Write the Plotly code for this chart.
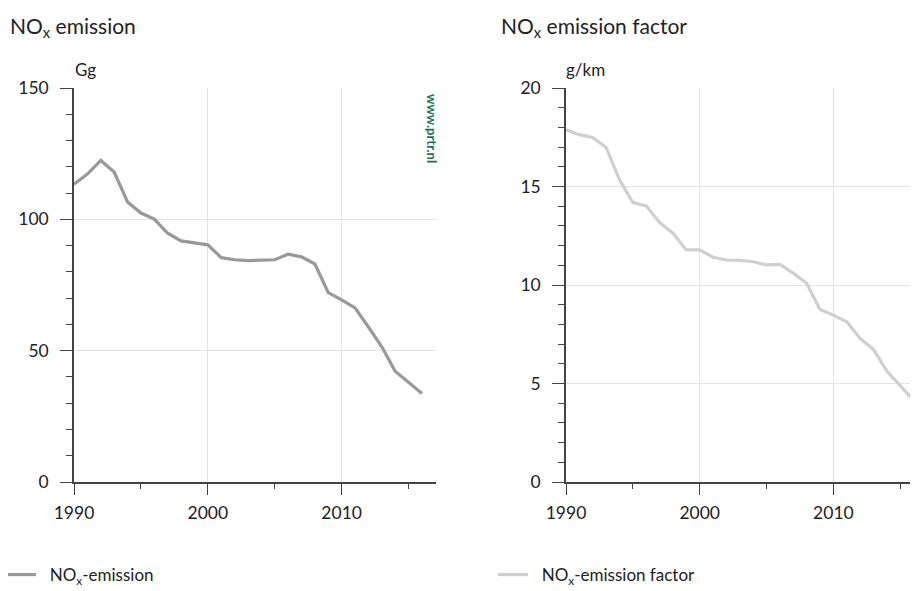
import plotly.graph_objects as go

years = list(range(1990, 2017))
nox_emission = [113.4, 117.2, 122.4, 118.0, 106.6, 102.4, 100.1, 94.7, 91.8, 91.2,
                90.3, 85.4, 84.6, 84.3, 84.4, 84.6, 86.7, 85.7, 83.0, 72.1,
                69.3, 66.3, 59.0, 51.5, 42.2, 38.0, 33.7]
nox_factor = [17.88, 17.63, 17.49, 16.98, 15.34, 14.18, 14.02, 13.17, 12.63, 11.78,
              11.78, 11.41, 11.27, 11.25, 11.18, 11.02, 11.05, 10.60, 10.09, 8.76,
              8.47, 8.13, 7.29, 6.73, 5.63, 4.90, 4.15]

x_ticks = [1990, 2000, 2010]
y1_ticks = [0, 50, 100, 150]
y2_ticks = [0, 5, 10, 15, 20]

FONT = "Lato"
OFF = 8  # page body margin
W, H = 918 - OFF, 591 - OFF

def px_x(p):
    # p given in screen pixels
    return (p - OFF) / W

def px_y(p):
    return (H - (p - OFF)) / H

fig = go.Figure()
fig.add_trace(go.Scatter(x=years, y=nox_emission, mode="lines",
                         line=dict(color="#999999", width=3.2),
                         name="&nbsp;&nbsp;NO<sub>x</sub>-emission", xaxis="x", yaxis="y",
                         legend="legend"))
fig.add_trace(go.Scatter(x=years, y=nox_factor, mode="lines",
                         line=dict(color="#cfcfcf", width=3.2),
                         name="&nbsp;&nbsp;NO<sub>x</sub>-emission factor", xaxis="x2", yaxis="y2",
                         legend="legend2"))

axis_line = "#444444"
grid = "#e3e3e3"

common_x = dict(tickvals=x_ticks, showgrid=True, gridcolor=grid, gridwidth=1,
                showline=True, linecolor=axis_line, linewidth=2,
                ticks="outside", ticklen=11, tickwidth=1.2, tickcolor=axis_line,
                minor=dict(dtick=5, tick0=1990, ticks="outside", ticklen=5,
                           tickcolor=axis_line, tickwidth=1.2, showgrid=False),
                tickfont=dict(family=FONT, size=17.5, color="#222222"),
                zeroline=False, fixedrange=True, ticklabelstandoff=3,
                automargin=False)
common_y = dict(showgrid=True, gridcolor=grid, gridwidth=1,
                showline=True, linecolor=axis_line, linewidth=1.5,
                ticks="outside", ticklen=12, tickwidth=1.2, tickcolor=axis_line,
                tickfont=dict(family=FONT, size=17.5, color="#222222"),
                zeroline=False, fixedrange=True, ticklabelstandoff=8,
                automargin=False)

y_bottom = px_y(482)
y_top = px_y(88)

fig.update_layout(
    template="none",
    width=W, height=H,
    margin=dict(l=0, r=0, t=0, b=0, pad=0, autoexpand=False),
    paper_bgcolor="white", plot_bgcolor="white",
    font=dict(family=FONT, color="#222222"),
    xaxis=dict(domain=[px_x(74), px_x(436)], range=[1990, 2017.05], anchor="y", **common_x),
    yaxis=dict(domain=[y_bottom, y_top], range=[0, 150], tickvals=y1_ticks, anchor="x",
               minor=dict(dtick=10, ticks="outside", ticklen=6, tickcolor=axis_line,
                          tickwidth=1.2, showgrid=False),
               **common_y),
    xaxis2=dict(domain=[px_x(566), 1.0], range=[1990, 2016.33], anchor="y2", **common_x),
    yaxis2=dict(domain=[y_bottom, y_top], range=[0, 20], tickvals=y2_ticks, anchor="x2",
                minor=dict(dtick=1, ticks="outside", ticklen=6, tickcolor=axis_line,
                           tickwidth=1.2, showgrid=False),
                **common_y),
    legend=dict(x=px_x(1), y=px_y(575), xanchor="left", yanchor="middle",
                font=dict(family=FONT, size=17, color="#222222"),
                bgcolor="rgba(0,0,0,0)", itemwidth=30),
    legend2=dict(x=px_x(493), y=px_y(575), xanchor="left", yanchor="middle",
                 font=dict(family=FONT, size=17, color="#222222"),
                 bgcolor="rgba(0,0,0,0)", itemwidth=30),
    showlegend=True,
)

annotations = [
    dict(text="NO<sub>x</sub> emission", x=px_x(8), y=px_y(27), xref="paper", yref="paper",
         xanchor="left", yanchor="middle", showarrow=False,
         font=dict(family=FONT, size=21, color="#222222")),
    dict(text="NO<sub>x</sub> emission factor", x=px_x(499), y=px_y(27), xref="paper", yref="paper",
         xanchor="left", yanchor="middle", showarrow=False,
         font=dict(family=FONT, size=21, color="#222222")),
    dict(text="Gg", x=px_x(73), y=px_y(69), xref="paper", yref="paper",
         xanchor="left", yanchor="middle", showarrow=False,
         font=dict(family=FONT, size=17, color="#222222")),
    dict(text="g/km", x=px_x(564), y=px_y(69), xref="paper", yref="paper",
         xanchor="left", yanchor="middle", showarrow=False,
         font=dict(family=FONT, size=17, color="#222222")),
    dict(text="<b>www.prtr.nl</b>", x=px_x(432), y=px_y(128), xref="paper", yref="paper",
         xanchor="center", yanchor="middle", showarrow=False, textangle=90,
         font=dict(family=FONT, size=13, color="#1b7455", weight=900)),
]
fig.update_layout(annotations=annotations)

fig.write_html("out.html")
